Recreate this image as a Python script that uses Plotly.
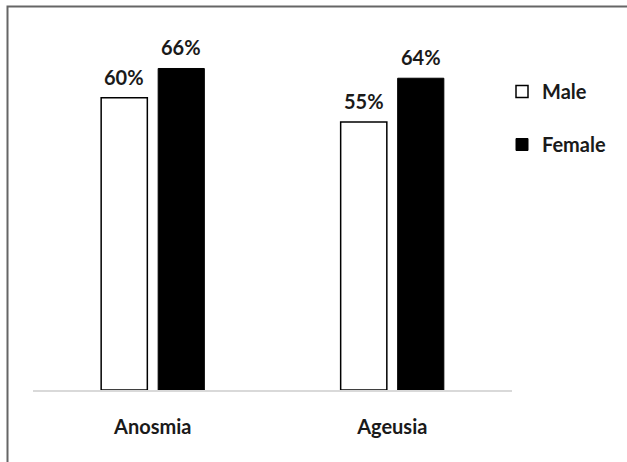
import plotly.graph_objects as go

# Data
categories = ["Anosmia", "Ageusia"]
male = [60, 55]
female = [66, 64]

FONT = "Lato"
TEXT_COLOR = "#1a1a1a"

W, H = 627, 462
M_L, M_R, M_T, M_B = 33, 115, 49, 72

BARGAP = 0.524
BARGROUPGAP = 0.19

fig = go.Figure()
fig.add_trace(go.Bar(
    name="Male", x=categories, y=male,
    marker=dict(color="white", line=dict(color="black", width=1.5)),
    legendgroup="m",
))
fig.add_trace(go.Bar(
    name="Female", x=categories, y=female,
    marker=dict(color="black", line=dict(color="black", width=1)),
    legendgroup="f",
))

# value labels above each bar
slot = (1 - BARGAP) / 2
offsets = [-slot / 2, slot / 2]
annotations = []
for series, off in ((male, offsets[0]), (female, offsets[1])):
    for i, v in enumerate(series):
        annotations.append(dict(
            x=i + off, y=v, xref="x", yref="y",
            text=f"{v}%", showarrow=False,
            yanchor="bottom", yshift=7,
            font=dict(family=FONT, size=20, color=TEXT_COLOR, weight="bold"),
        ))

# outer frame (left and top edges visible)
pw = W - M_L - M_R
ph = H - M_T - M_B
def px_to_paper_x(px):
    return (px - M_L) / pw
def px_to_paper_y(py):
    return (H - M_B - py) / ph

shapes = [dict(
    type="rect", xref="paper", yref="paper",
    x0=px_to_paper_x(7.5), x1=px_to_paper_x(W + 20),
    y0=px_to_paper_y(H + 20), y1=px_to_paper_y(6.5),
    line=dict(color="#666666", width=2), fillcolor="rgba(0,0,0,0)",
    layer="below",
)]

fig.update_layout(
    width=W, height=H,
    margin=dict(l=M_L, r=M_R, t=M_T, b=M_B, autoexpand=False),
    paper_bgcolor="white", plot_bgcolor="white",
    barmode="group", bargap=BARGAP, bargroupgap=BARGROUPGAP,
    showlegend=True,
    legend=dict(
        x=px_to_paper_x(502), y=px_to_paper_y(72),
        xanchor="left", yanchor="top",
        font=dict(family=FONT, size=20, color=TEXT_COLOR, weight="bold"),
        tracegroupgap=24, bgcolor="rgba(0,0,0,0)",
    ),
    xaxis=dict(
        showline=True, linecolor="#d9d9d9", linewidth=2,
        ticks="", showgrid=False, ticklabelstandoff=18,
        tickfont=dict(family=FONT, size=20, color=TEXT_COLOR, weight="bold"),
    ),
    yaxis=dict(
        range=[0, 70], visible=False, showgrid=False, zeroline=False,
    ),
    annotations=annotations,
    shapes=shapes,
)

fig.write_html("out.html")
